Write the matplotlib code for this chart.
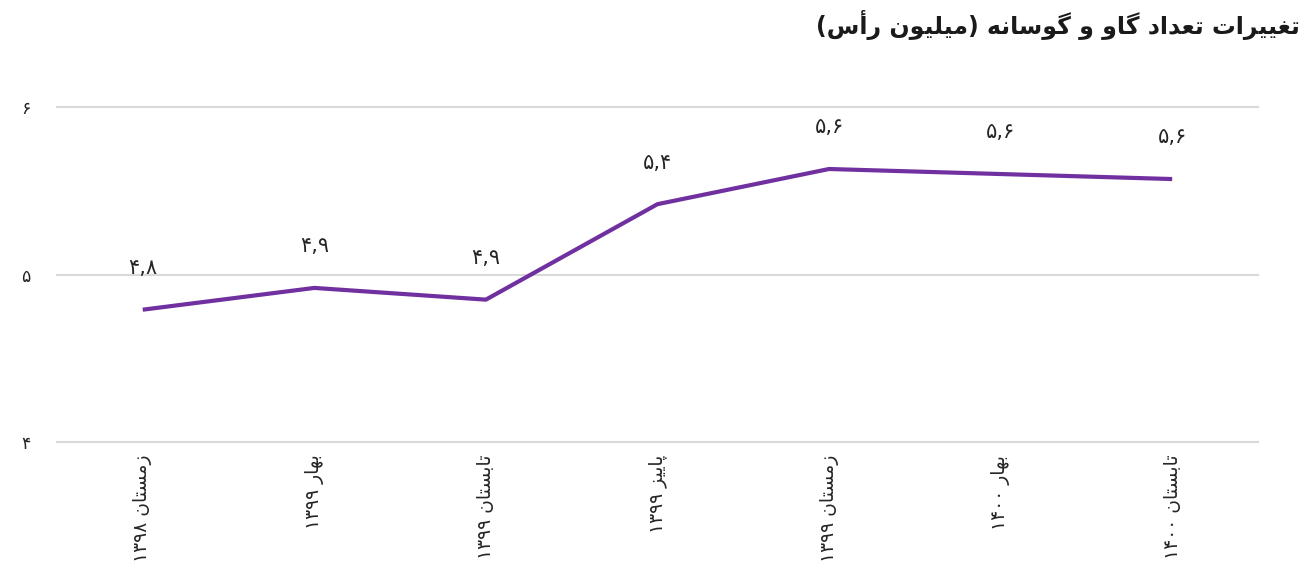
import matplotlib
matplotlib.use("Agg")
import matplotlib.pyplot as plt

# data
seasons = ["زمستان ۱۳۹۸", "بهار ۱۳۹۹", "تابستان ۱۳۹۹", "پاییز ۱۳۹۹",
           "زمستان ۱۳۹۹", "بهار ۱۴۰۰", "تابستان ۱۴۰۰"]
cattle = [4.79, 4.92, 4.85, 5.42, 5.63, 5.60, 5.57]
value_labels = ["۴,۸", "۴,۹", "۴,۹", "۵,۴", "۵,۶", "۵,۶", "۵,۶"]
yticks = [4, 5, 6]
ytick_labels = ["۴", "۵", "۶"]
title = "تغییرات تعداد گاو و گوسانه (میلیون رأس)"

# matplotlib has no arabic shaping, so pick presentation forms by hand
# letter: (isolated, final, initial, medial) ; right-joining ones have 2 forms
FORMS = {
    "ب": "\uFE8F\uFE90\uFE91\uFE92",
    "پ": "\uFB56\uFB57\uFB58\uFB59",
    "ت": "\uFE95\uFE96\uFE97\uFE98",
    "س": "\uFEB1\uFEB2\uFEB3\uFEB4",
    "ع": "\uFEC9\uFECA\uFECB\uFECC",
    "غ": "\uFECD\uFECE\uFECF\uFED0",
    "گ": "\uFB92\uFB93\uFB94\uFB95",
    "ل": "\uFEDD\uFEDE\uFEDF\uFEE0",
    "م": "\uFEE1\uFEE2\uFEE3\uFEE4",
    "ن": "\uFEE5\uFEE6\uFEE7\uFEE8",
    "ه": "\uFEE9\uFEEA\uFEEB\uFEEC",
    "ی": "\uFBFC\uFBFD\uFBFE\uFBFF",
    "ا": "\uFE8D\uFE8E",
    "أ": "\uFE83\uFE84",
    "د": "\uFEA9\uFEAA",
    "ر": "\uFEAD\uFEAE",
    "ز": "\uFEAF\uFEB0",
    "و": "\uFEED\uFEEE",
}


def fa(s):
    out = []
    for i, c in enumerate(s):
        if c not in FORMS:
            out.append(c)
            continue
        f = FORMS[c]
        prev = s[i - 1] if i > 0 else ""
        nxt = s[i + 1] if i + 1 < len(s) else ""
        pj = prev in FORMS and len(FORMS[prev]) == 4
        nj = nxt in FORMS and len(f) == 4
        if pj and nj:
            out.append(f[3])
        elif pj:
            out.append(f[1])
        elif nj:
            out.append(f[2])
        else:
            out.append(f[0])
    # visual order: reverse everything, keep digit runs left-to-right
    rev = "".join(out)[::-1]
    rev = rev.translate(str.maketrans("()", ")("))
    res, run = [], ""
    for c in rev:
        if "\u06F0" <= c <= "\u06F9" or c == ",":
            run += c
        else:
            res.append(run[::-1])
            run = ""
            res.append(c)
    res.append(run[::-1])
    return "".join(res)


plt.rcParams["font.family"] = ["DejaVu Sans"]

fig = plt.figure(figsize=(13.09, 5.73), dpi=100)
ax = fig.add_axes([0.0435, 0.2286, 0.9175, 0.5846])

x = list(range(len(seasons)))
ax.plot(x, cattle, color="#7030A0", linewidth=3, solid_capstyle="butt", zorder=3)
for xi, v, lab in zip(x, cattle, value_labels):
    ax.annotate(lab, (xi, v), xytext=(0, 30), textcoords="offset points",
                ha="center", va="center", fontsize=15, color="#262626")

ax.set_xlim(-0.5, len(seasons) - 0.5)
ax.set_ylim(4, 6)
ax.set_yticks(yticks)
ax.set_yticklabels(ytick_labels, fontsize=12.5, color="#262626")
ax.set_xticks(x)
ax.set_xticklabels([fa(s) for s in seasons], rotation=90, ha="center", va="top",
                   fontsize=13.5, color="#262626")
ax.tick_params(axis="both", length=0)
ax.tick_params(axis="y", pad=19)
ax.tick_params(axis="x", pad=9)
for sp in ax.spines.values():
    sp.set_visible(False)
ax.grid(axis="y", color="#d9d9d9", linewidth=1.5)
for gl in ax.get_ygridlines():
    gl.set_clip_on(False)
ax.set_axisbelow(True)

fig.text(0.993, 0.957, fa(title), ha="right", va="center", fontsize=17,
         fontweight="bold", color="#1a1a1a")

fig.savefig("out.png", dpi=100)
